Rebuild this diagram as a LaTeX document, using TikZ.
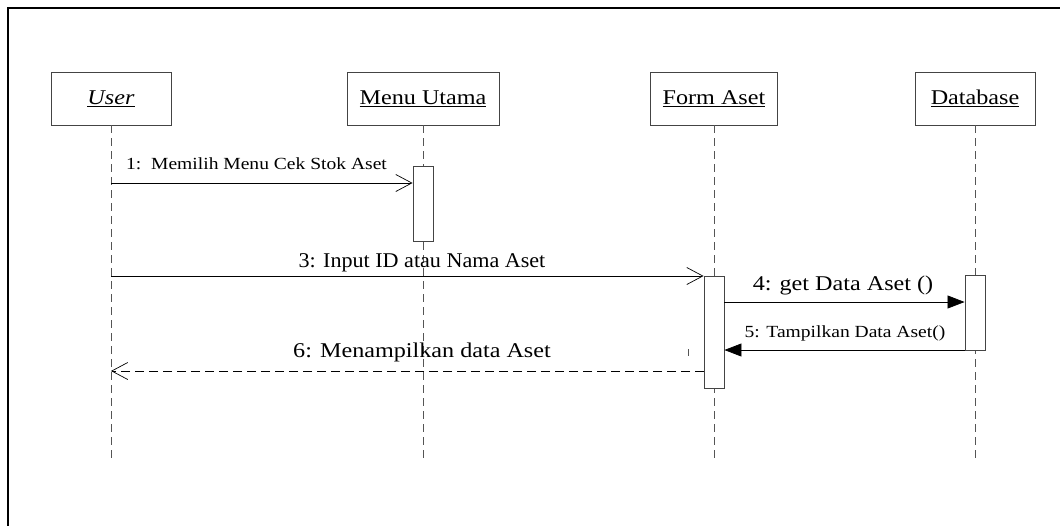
\documentclass[tikz,border=0pt]{standalone}
\usepackage{fontspec}
\setmainfont[FakeStretch=1.15]{Liberation Serif}
\usetikzlibrary{arrows.meta}
\definecolor{linegray}{HTML}{444444}
\definecolor{lifegray}{HTML}{555555}
\tikzset{
  objbox/.style={draw=linegray, line width=0.9pt, fill=white, minimum height=53pt, inner sep=0pt,
                 font=\fontsize{21}{24}\selectfont},
  actbox/.style={draw=linegray, line width=0.9pt, fill=white, inner sep=0pt, minimum width=20pt},
  lifeline/.style={draw=lifegray, line width=0.9pt, dash pattern=on 8pt off 5pt},
  syncmsg/.style={draw=black, line width=0.7pt, -{Triangle[length=17pt,width=13pt]}},
  openmsg/.style={draw=black, line width=0.7pt, -{Straight Barb[length=16pt,width=17pt,line width=0.7pt]}},
  retmsg/.style={draw=black, line width=0.7pt, dash pattern=on 9pt off 5pt, -{Straight Barb[length=16pt,width=17pt,line width=0.7pt]}},
  biglbl/.style={anchor=base, inner sep=0pt, font=\fontsize{21}{24}\selectfont},
  smalllbl/.style={anchor=base, inner sep=0pt, font=\fontsize{17}{20}\selectfont},
}
\begin{document}
\begin{tikzpicture}[x=1pt,y=-1pt]
\useasboundingbox (0,0) rectangle (1060,525);
% frame
\coordinate (fTR) at (1060,8);
\coordinate (fTL) at (8,8);
\coordinate (fBL) at (8,525);
\draw[line width=2.6pt, line cap=rect] (fTR) -- (fTL) -- (fBL);

% objects
\node[objbox, minimum width=120pt] (user) at (111,98.5) {\underline{\textit{User}}};
\node[objbox, minimum width=152pt] (menu) at (423,98.5) {\underline{Menu Utama}};
\node[objbox, minimum width=127pt] (form) at (714,98.5) {\underline{Form Aset}};
\node[objbox, minimum width=120pt] (db)   at (975,98.5) {\underline{Database}};

% lifeline ends
\coordinate (userEnd) at (111,463);
\coordinate (menuEnd) at (423,463);
\coordinate (formEnd) at (714,463);
\coordinate (dbEnd)   at (975,463);
\draw[lifeline] (user.south) -- (userEnd);
\draw[lifeline] (menu.south) -- (menuEnd);
\draw[lifeline] (form.south) -- (formEnd);
\draw[lifeline] (db.south) -- (dbEnd);

% activations
\node[actbox, minimum height=75pt]  (menuAct) at (423,203.5) {};
\node[actbox, minimum height=112pt] (formAct) at (714,332) {};
\node[actbox, minimum height=75pt]  (dbAct)   at (975,312.5) {};

% message endpoints
\coordinate (m1s) at (111,183);
\coordinate (m3s) at (111,276);
\coordinate (m4s) at (724,302);
\coordinate (m5s) at (965,350);
\coordinate (m6s) at (704,371);
\coordinate (m6e) at (111,371);

% messages
\draw[openmsg] (m1s) -- (m1s -| menuAct.west);
\draw[openmsg] (m3s) -- (m3s -| formAct.west);
\draw[syncmsg] (m4s) -- (m4s -| dbAct.west);
\draw[syncmsg] (m5s) -- (m5s -| formAct.east);
\draw[retmsg] (m6s) -- (m6e);

% labels
\node[smalllbl, anchor=base west] (l1) at (126,169) {1:\ \ Memilih Menu Cek Stok Aset};
\node[biglbl] (l3) at (422,267) {\scalebox{0.915}[1]{3: Input ID atau Nama Aset}};
\node[biglbl] (l4) at (843,290) {4: get Data Aset ()};
\node[smalllbl] (l5) at (845,337) {5: Tampilkan Data Aset()};
\node[biglbl] (l6) at (422,357) {6: Menampilkan data Aset};

% small stray tick
\coordinate (tickA) at (688,349);
\coordinate (tickB) at (688,356);
\draw[lifegray, line width=0.9pt] (tickA) -- (tickB);
\end{tikzpicture}
\end{document}
